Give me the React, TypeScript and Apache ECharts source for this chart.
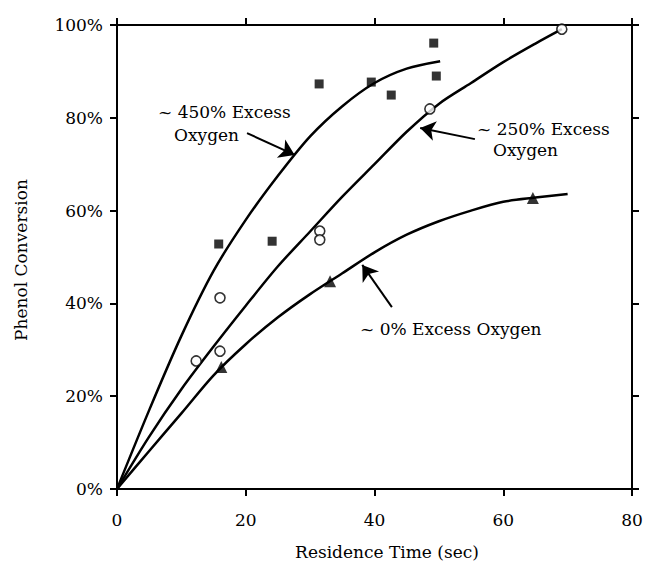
import React, { useEffect, useRef } from "react";
import * as echarts from "echarts";

// Measured data points: [residence time (s), phenol conversion (%)]
const excess450Points: [number, number][] = [
  [15.8, 52.8], [24.1, 53.4], [31.4, 87.3], [39.5, 87.7], [42.6, 84.9], [49.2, 96.1], [49.6, 89.0],
];
const excess250Points: [number, number][] = [
  [12.3, 27.6], [16.0, 41.2], [16.0, 29.7], [31.5, 55.6], [31.5, 53.7], [48.6, 81.9], [69.1, 99.1],
];
const excess0Points: [number, number][] = [
  [16.2, 26.3], [33.1, 44.8], [64.6, 62.7],
];

// Fitted curves
const excess450Curve: [number, number][] = [
  [0, 0], [5, 17], [10, 33], [15, 47], [20, 58], [25, 67.5], [30, 76], [35, 82.5], [40, 87.5], [45, 90.6], [50.2, 92.2],
];
const excess250Curve: [number, number][] = [
  [0, 0], [5, 11.3], [10, 21.5], [15, 30.7], [20, 39.5], [25, 48], [30, 55.5], [35, 63], [40, 70], [45, 77],
  [50, 83], [55, 87.5], [60, 92], [65, 96], [69.1, 99.1],
];
const excess0Curve: [number, number][] = [
  [0, 0], [5, 8.2], [10, 16.3], [15, 24.5], [20, 31.2], [25, 37], [30, 42], [35, 46.5], [40, 51], [45, 54.8],
  [50, 57.7], [55, 60], [60, 61.9], [65, 62.8], [70, 63.6],
];

// Annotation arrows (start -> tip), in data coordinates
const arrows: [number, number][][] = [
  [[20.2, 76.7], [27.6, 72.0]],
  [[55.6, 75.4], [47.1, 77.8]],
  [[42.7, 39.2], [38.1, 48.3]],
];

const xTicks = [0, 20, 40, 60, 80];
const yTicks = [0, 20, 40, 60, 80, 100];

const FONT = "DejaVu Serif";

export default function App() {
  const ref = useRef<HTMLDivElement>(null);
  useEffect(() => {
    if (!ref.current) return;
    const chart = echarts.init(ref.current, undefined, { renderer: "svg" });
    const axisLine = { show: true, onZero: false, lineStyle: { color: "#000", width: 2 } };
    const axisTick = { show: true, inside: false, length: 7, lineStyle: { color: "#000", width: 2 } };
    const curveStyle = { color: "#000", width: 2.5 };
    const textStyle = { fontFamily: FONT, fontSize: 17, fill: "#000" };
    chart.setOption({
      animation: false,
      backgroundColor: "#fff",
      grid: { left: 117, right: 14, top: 25, bottom: 82 },
      xAxis: [
        {
          type: "value", min: xTicks[0], max: xTicks[xTicks.length - 1], interval: 20,
          position: "bottom", axisLine, axisTick, splitLine: { show: false },
          axisLabel: { color: "#000", fontFamily: FONT, fontSize: 17, margin: 22 },
        },
        {
          type: "value", min: 0, max: 80, interval: 20, position: "top",
          axisLine, axisTick, splitLine: { show: false }, axisLabel: { show: false },
        },
      ],
      yAxis: [
        {
          type: "value", min: yTicks[0], max: yTicks[yTicks.length - 1], interval: 20,
          position: "left", axisLine, axisTick, splitLine: { show: false },
          axisLabel: { color: "#000", fontFamily: FONT, fontSize: 17, margin: 14, formatter: "{value}%" },
        },
        {
          type: "value", min: 0, max: 100, interval: 20, position: "right",
          axisLine, axisTick, splitLine: { show: false }, axisLabel: { show: false },
        },
      ],
      series: [
        { type: "line", data: excess450Curve, smooth: 0.3, showSymbol: false, lineStyle: curveStyle, silent: true },
        { type: "line", data: excess250Curve, smooth: 0.3, showSymbol: false, lineStyle: curveStyle, silent: true },
        { type: "line", data: excess0Curve, smooth: 0.3, showSymbol: false, lineStyle: curveStyle, silent: true },
        {
          type: "scatter", data: excess450Points, symbol: "rect", symbolSize: 9,
          itemStyle: { color: "#000" }, silent: true, z: 5,
        },
        {
          type: "scatter", data: excess250Points, symbol: "circle", symbolSize: 10,
          itemStyle: { color: "#fff", borderColor: "#000", borderWidth: 1.6 }, silent: true, z: 5,
        },
        {
          type: "scatter", data: excess0Points, symbol: "triangle", symbolSize: 12,
          itemStyle: { color: "#000" }, silent: true, z: 5,
        },
        {
          type: "line", data: [], silent: true,
          markLine: {
            silent: true, animation: false,
            symbol: ["none", "arrow"], symbolSize: 15,
            label: { show: false },
            lineStyle: { color: "#000", width: 2, type: "solid" },
            data: arrows.map(([a, b]) => [{ coord: a }, { coord: b }]),
          },
        },
      ],
      graphic: [
        { type: "text", left: 158, top: 103, style: { ...textStyle, text: "~ 450% Excess" } },
        { type: "text", left: 174, top: 126, style: { ...textStyle, text: "Oxygen" } },
        { type: "text", left: 477, top: 120, style: { ...textStyle, text: "~ 250% Excess" } },
        { type: "text", left: 493, top: 141, style: { ...textStyle, text: "Oxygen" } },
        { type: "text", left: 360, top: 320, style: { ...textStyle, text: "~ 0% Excess Oxygen" } },
        {
          type: "text", x: 387, y: 552,
          style: { ...textStyle, text: "Residence Time (sec)", align: "center", verticalAlign: "middle" },
        },
        {
          type: "text", x: 21, y: 260, rotation: Math.PI / 2,
          style: { ...textStyle, text: "Phenol Conversion", align: "center", verticalAlign: "middle" },
        },
      ],
    });
    return () => chart.dispose();
  }, []);
  return <div ref={ref} style={{ width: 646, height: 571, position: "absolute", left: 0, top: 0 }} />;
}
